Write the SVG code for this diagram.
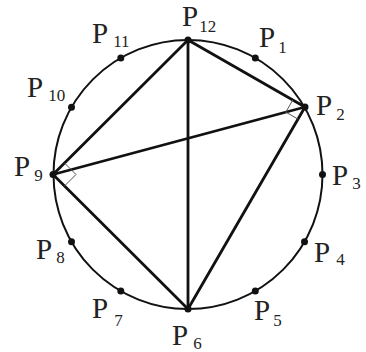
<svg xmlns="http://www.w3.org/2000/svg" width="366" height="352" viewBox="0 0 366 352">
<style>
text{font-family:'Liberation Serif','DejaVu Serif',serif;font-size:29px;fill:#222}
tspan{font-size:17px}
.edge{stroke:#111;stroke-width:2.8;fill:none;stroke-linecap:round}
.mark{stroke:#555;stroke-width:1;fill:none}
.dot{fill:#111}
</style>
<rect width="366" height="352" fill="#fff"/>
<circle cx="188" cy="174.5" r="134.5" fill="none" stroke="#111" stroke-width="2"/>
<g id="connectors">
<line class="edge" x1="188" y1="40" x2="305" y2="107"/>
<line class="edge" x1="188" y1="40" x2="188" y2="309"/>
<line class="edge" x1="188" y1="40" x2="53" y2="174.5"/>
<line class="edge" x1="53" y1="174.5" x2="305" y2="107"/>
<line class="edge" x1="53" y1="174.5" x2="188" y2="309"/>
<line class="edge" x1="305" y1="107" x2="188" y2="309"/>
<polyline class="mark" points="292.8,100 285.8,112.1 298,119.1"/>
<polyline class="mark" points="64.5,163 76,174.5 64.5,186"/>
</g>
<g id="P12"><circle class="dot" cx="188" cy="40" r="3.5"/><text font-family="Liberation Serif, serif" x="182" y="26">P<tspan dx="1" dy="6">12</tspan></text></g>
<g id="P1"><circle class="dot" cx="255.3" cy="58" r="3.5"/><text font-family="Liberation Serif, serif" x="259" y="47">P<tspan dx="3" dy="6">1</tspan></text></g>
<g id="P2"><circle class="dot" cx="305" cy="107" r="3.5"/><text font-family="Liberation Serif, serif" x="316" y="115">P<tspan dx="4" dy="5">2</tspan></text></g>
<g id="P3"><circle class="dot" cx="322.5" cy="174.5" r="3.5"/><text font-family="Liberation Serif, serif" x="332" y="185">P<tspan dx="4" dy="4">3</tspan></text></g>
<g id="P4"><circle class="dot" cx="304.5" cy="241.8" r="3.5"/><text font-family="Liberation Serif, serif" x="314" y="262">P<tspan dx="6" dy="3">4</tspan></text></g>
<g id="P5"><circle class="dot" cx="255.3" cy="291" r="3.5"/><text font-family="Liberation Serif, serif" x="254" y="320">P<tspan dx="3" dy="6">5</tspan></text></g>
<g id="P6"><circle class="dot" cx="188" cy="309" r="3.5"/><text font-family="Liberation Serif, serif" x="172" y="345">P<tspan dx="5" dy="4">6</tspan></text></g>
<g id="P7"><circle class="dot" cx="120.8" cy="291" r="3.5"/><text font-family="Liberation Serif, serif" x="92" y="318">P<tspan dx="6" dy="8">7</tspan></text></g>
<g id="P8"><circle class="dot" cx="71.5" cy="241.8" r="3.5"/><text font-family="Liberation Serif, serif" x="36" y="259">P<tspan dx="4" dy="4">8</tspan></text></g>
<g id="P9"><circle class="dot" cx="53" cy="174.5" r="3.5"/><text font-family="Liberation Serif, serif" x="14" y="176">P<tspan dx="4" dy="5">9</tspan></text></g>
<g id="P10"><circle class="dot" cx="71.5" cy="107.3" r="3.5"/><text font-family="Liberation Serif, serif" x="27" y="97">P<tspan dx="5" dy="4">10</tspan></text></g>
<g id="P11"><circle class="dot" cx="120.8" cy="58" r="3.5"/><text font-family="Liberation Serif, serif" x="92" y="43">P<tspan dx="5" dy="4">11</tspan></text></g>
</svg>
